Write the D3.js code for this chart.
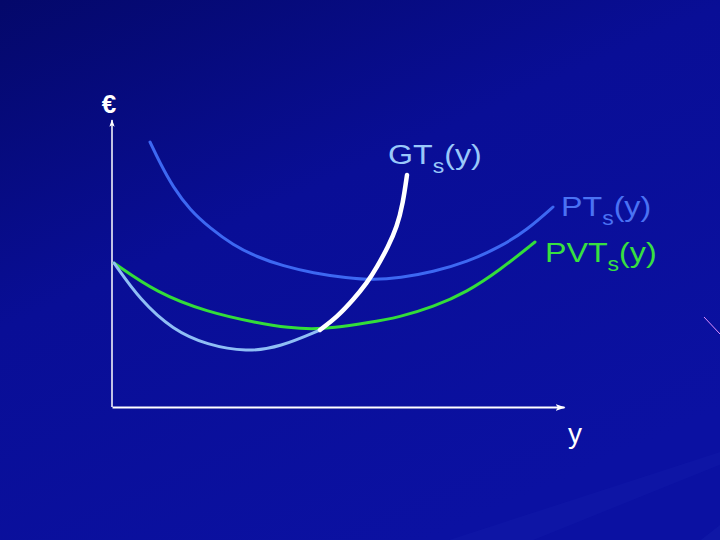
<!DOCTYPE html>
<html>
<head>
<meta charset="utf-8">
<script src="https://cdn.jsdelivr.net/npm/d3@7"></script>
<style>
  html, body { margin: 0; padding: 0; background: #0a0f8e; }
  svg { display: block; }
</style>
</head>
<body>
<div id="chart"></div>
<script>
// curve values (x = output y, value = euro)
const ptValues  = [[38,265],[48,244],[61,220],[78,197],[98,179],[121,162],[145,150],[171,141],[201,134],
                   [235,129],[261,127],[288,129],[321,135],[355,145],[388,160],[415,177],[441,200]]
const pvtValues = [[2,144],[45,114],[95,95],[145,84],[178,79],[200,78],[221,79],[255,84],[288,90],
                   [321,100],[355,115],[388,137],[423,165]]
const gtLow     = [[2,144],[28,107],[61,77],[95,62],[135,55],[168,60],[208,77]]
const gtHigh    = [[208,77],[225,90],[241,107],[255,124],[265,140],[276,160],[285,180],[291,204],[295,232]]
const labels = ["€", "y", "GT", "PT", "PVT"]

const width = 720
const height = 540

let svg = d3.select("#chart")
            .append("svg")
            .attr("width", width)
            .attr("height", height)

//Background with faint rays
let defs = svg.append("defs")
let bg = defs.append("linearGradient")
             .attr("id", "bg")
             .attr("x1", 0).attr("y1", 0)
             .attr("x2", 0.6).attr("y2", 1)
bg.append("stop").attr("offset", 0).attr("stop-color", "#04086a")
bg.append("stop").attr("offset", 0.45).attr("stop-color", "#090e96")
bg.append("stop").attr("offset", 1).attr("stop-color", "#0b11a2")

svg.append("rect")
   .attr("width", width)
   .attr("height", height)
   .attr("fill", "url(#bg)")

let rays = [[-170, 0.05, 3], [-150, 0.05, 2], [-130, 0.06, 2], [-110, 0.05, 3], [-95, 0.06, 2],
            [-75, 0.05, 2], [-60, 0.05, 3], [-40, 0.05, 2], [-20, 0.04, 2], [160, 0.07, 3],
            [172, 0.05, 2], [185, 0.05, 2], [200, 0.06, 3], [215, 0.05, 2]]
let origin = [880, 400]
svg.append("g")
   .selectAll("path")
   .data(rays)
   .enter().append("path")
   .attr("d", function(d) {
       let a = (d[0] + 180) * Math.PI / 180
       let w = d[2] * Math.PI / 180
       let r = 1400
       return "M" + origin + "L" + [origin[0] + r * Math.cos(a - w), origin[1] + r * Math.sin(a - w)] +
              "L" + [origin[0] + r * Math.cos(a + w), origin[1] + r * Math.sin(a + w)] + "Z"
   })
   .attr("fill", "#6a8cff")
   .attr("opacity", function(d) { return d[1] })

svg.append("line")
   .attr("x1", 704).attr("y1", 317)
   .attr("x2", 720).attr("y2", 334)
   .attr("stroke", "#e090ff")
   .attr("stroke-width", 1)

//Scales and axes
let xScale = d3.scaleLinear().domain([0, 452]).range([112, 564])
let yScale = d3.scaleLinear().domain([0, 287]).range([407, 120])

defs.append("marker")
    .attr("id", "arrow")
    .attr("viewBox", "0 0 10 10")
    .attr("refX", 9).attr("refY", 5)
    .attr("markerWidth", 5).attr("markerHeight", 5)
    .attr("orient", "auto")
    .append("path")
    .attr("d", "M0,1.5L10,5L0,8.5L2.5,5Z")
    .attr("fill", "white")

let xAxis = svg.append("g")
               .attr("transform", "translate(0,407)")
               .call(d3.axisBottom(xScale).ticks(0).tickSizeOuter(0))
let yAxis = svg.append("g")
               .attr("transform", "translate(112,0)")
               .call(d3.axisLeft(yScale).ticks(0).tickSizeOuter(0))

xAxis.select(".domain").attr("stroke", "white").attr("stroke-width", 2).attr("marker-end", "url(#arrow)")
yAxis.select(".domain").attr("stroke", "white").attr("stroke-width", 1.5)
     .attr("d", "M0,407V120").attr("marker-end", "url(#arrow)")

//Curves
let line = d3.line()
             .x(function(d) { return xScale(d[0]) })
             .y(function(d) { return yScale(d[1]) })
             .curve(d3.curveBasis)

let curves = [
  {data: ptValues, color: "#3d68f2", w: 3},
  {data: pvtValues, color: "#33dd3a", w: 3},
  {data: gtLow, color: "#8fbef5", w: 3},
  {data: gtHigh, color: "#ffffff", w: 4.5}
]

svg.selectAll(".curve")
   .data(curves)
   .enter().append("path")
   .attr("class", "curve")
   .attr("d", function(d) { return line(d.data) })
   .attr("fill", "none")
   .attr("stroke", function(d) { return d.color })
   .attr("stroke-width", function(d) { return d.w })
   .attr("stroke-linecap", "round")

//Labels
svg.append("text")
   .attr("x", 109).attr("y", 113)
   .attr("text-anchor", "middle")
   .attr("font-family", "Liberation Sans, Arial, sans-serif")
   .attr("font-weight", "bold")
   .attr("font-size", 26)
   .attr("fill", "white")
   .text(labels[0])

svg.append("text")
   .attr("x", 568).attr("y", 443)
   .attr("font-family", "Liberation Sans, Arial, sans-serif")
   .attr("font-size", 28)
   .attr("fill", "white")
   .text(labels[1])

let curveLabels = [
  {name: labels[2], x: 388, y: 164, color: "#99c8fa"},
  {name: labels[3], x: 561, y: 216, color: "#4a72f4"},
  {name: labels[4], x: 545, y: 262, color: "#38e040"}
]

curveLabels.forEach(function(l) {
  let t = svg.append("text")
             .attr("transform", "translate(" + l.x + "," + l.y + ") scale(1.15,1)")
             .attr("font-family", "Liberation Sans, Arial, sans-serif")
             .attr("font-size", 28)
             .attr("fill", l.color)
  t.append("tspan").text(l.name)
  t.append("tspan").attr("font-size", 20).attr("dy", 9).text("s")
  t.append("tspan").attr("dy", -9).text("(y)")
})
</script>
</body>
</html>
